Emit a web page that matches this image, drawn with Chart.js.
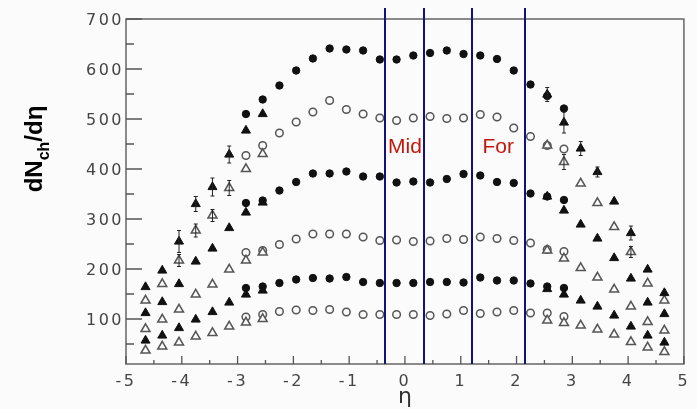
<!DOCTYPE html>
<html>
<head>
<meta charset="utf-8">
<script src="https://cdn.jsdelivr.net/npm/chart.js@4.4.1/dist/chart.umd.min.js"></script>
<style>
  html, body { margin: 0; padding: 0; background: #fbfbfb; }
  #wrap { width: 697px; height: 409px; position: relative; }
</style>
</head>
<body>
<div id="wrap"><canvas id="chart"></canvas></div>
<script>
// eta bins for the central (circle) measurements
const etaMid = [-2.85, -2.55, -2.25, -1.95, -1.65, -1.35, -1.05, -0.75, -0.45, -0.15,
                 0.15, 0.45, 0.75, 1.05, 1.35, 1.65, 1.95, 2.25, 2.55, 2.85];
// eta bins for the forward/backward (triangle) measurements
const etaWing = [-4.65, -4.35, -4.05, -3.75, -3.45, -3.15, -2.85, -2.55,
                  2.55, 2.85, 3.15, 3.45, 3.75, 4.05, 4.35, 4.65];

// filled circles
const circA = [510, 539, 567, 597, 621, 641, 639, 637, 619, 619, 627, 632, 637, 630, 627, 620, 597, 569, 546, 521];
const circC = [332, 337, 357, 374, 391, 391, 395, 385, 385, 373, 375, 373, 380, 390, 387, 374, 372, 351, 345, 338];
const circE = [162, 165, 172, 179, 182, 181, 184, 174, 172, 172, 172, 174, 174, 173, 183, 177, 177, 171, 165, 162];
// open circles
const circB = [427, 447, 472, 494, 514, 537, 519, 510, 502, 497, 502, 505, 501, 502, 509, 504, 482, 465, 447, 440];
const circD = [233, 237, 249, 260, 270, 270, 270, 264, 257, 258, 255, 256, 261, 259, 264, 261, 257, 252, 239, 235];
const circF = [104, 109, 115, 118, 117, 119, 114, 109, 109, 109, 109, 107, 110, 117, 111, 114, 117, 112, 112, 105];

// filled triangles
const triG1 = [164, 197, 255, 330, 364, 429, 477, 510, 549, 493, 441, 394, 335, 272, 199, 152];
const triG2 = [112, 134, 170, 215, 241, 282, 313, 333, 345, 317, 289, 261, 222, 181, 133, 110];
const triG3 = [57, 67, 82, 99, 114, 133, 149, 157, 160, 149, 137, 125, 107, 85, 67, 53];
// open triangles
const triH1 = [137, 170, 217, 277, 307, 362, 400, 430, 447, 414, 371, 332, 284, 234, 171, 137];
const triH2 = [80, 99, 119, 149, 169, 199, 217, 233, 237, 221, 202, 183, 159, 125, 94, 77];
const triH3 = [37, 45, 53, 65, 72, 85, 93, 100, 97, 92, 87, 79, 69, 54, 43, 34];

// error bars (half heights) on the top triangle sets
const errG1 = [0, 0, 22, 15, 18, 17, 0, 0, 14, 21, 14, 10, 0, 14, 0, 0];
const errH1 = [0, 0, 12, 13, 12, 15, 0, 0, 0, 15, 0, 0, 0, 11, 0, 0];

// acceptance boundaries and region labels
const regionLines = [-0.35, 0.35, 1.2, 2.15];
const regionLabels = ['Mid', 'For'];
const regionLabelEta = [0, 1.67];
const regionLabelY = 432;

const xTicks = [-5, -4, -3, -2, -1, 0, 1, 2, 3, 4, 5];
const yTicks = [100, 200, 300, 400, 500, 600, 700];

const pts = (xs, ys) => xs.map((x, i) => ({ x: x, y: ys[i] }));

const filledTri = (data) => ({
    data: pts(etaWing, data), pointStyle: 'triangle', pointRadius: 5.2,
    backgroundColor: '#111', borderColor: '#111', borderWidth: 1
});
const openTri = (data) => ({
    data: pts(etaWing, data), pointStyle: 'triangle', pointRadius: 5.2,
    backgroundColor: '#fbfbfb', borderColor: '#555', borderWidth: 1.5
});
const filledCirc = (data) => ({
    data: pts(etaMid, data), pointStyle: 'circle', pointRadius: 3.7,
    backgroundColor: '#111', borderColor: '#111', borderWidth: 1
});
const openCirc = (data) => ({
    data: pts(etaMid, data), pointStyle: 'circle', pointRadius: 3.8,
    backgroundColor: '#fbfbfb', borderColor: '#555', borderWidth: 1.5
});

const errorSets = [
    { vals: triG1, errs: errG1 },
    { vals: triH1, errs: errH1 }
];

const decor = {
    id: 'decor',
    beforeDraw(chart) {
        const ctx = chart.ctx;
        ctx.save();
        ctx.fillStyle = '#fbfbfb';
        ctx.fillRect(0, 0, chart.width, chart.height);
        ctx.restore();
        ctx.letterSpacing = '2.5px';
    },
    beforeDatasetsDraw(chart) {
        const ctx = chart.ctx;
        ctx.letterSpacing = '0px';
        const { left, right, top, bottom } = chart.chartArea;
        const xs = chart.scales.x, ys = chart.scales.y;
        ctx.save();
        ctx.strokeStyle = '#666';
        ctx.lineWidth = 1.5;
        ctx.strokeRect(left, top, right - left, bottom - top);
        ctx.strokeStyle = '#555';
        ctx.lineWidth = 1.3;
        ctx.beginPath();
        yTicks.forEach(v => {
            const y = ys.getPixelForValue(v);
            ctx.moveTo(left, y); ctx.lineTo(left + 16, y);
            const ym = ys.getPixelForValue(v - 50);
            ctx.moveTo(left, ym); ctx.lineTo(left + 8, ym);
        });
        xTicks.forEach(v => {
            const x = xs.getPixelForValue(v);
            ctx.moveTo(x, bottom); ctx.lineTo(x, bottom - 8);
            if (v < 5) {
                const xm = xs.getPixelForValue(v + 0.5);
                ctx.moveTo(xm, bottom); ctx.lineTo(xm, bottom - 4);
            }
        });
        ctx.stroke();
        ctx.restore();
    },
    afterDatasetsDraw(chart) {
        const ctx = chart.ctx;
        const { top, bottom } = chart.chartArea;
        const xs = chart.scales.x, ys = chart.scales.y;
        ctx.save();
        // error bars
        ctx.strokeStyle = '#222';
        ctx.lineWidth = 1;
        ctx.beginPath();
        errorSets.forEach(set => {
            set.vals.forEach((v, i) => {
                const e = set.errs[i];
                if (!e) return;
                const x = xs.getPixelForValue(etaWing[i]);
                const y1 = ys.getPixelForValue(v - e), y2 = ys.getPixelForValue(v + e);
                ctx.moveTo(x, y1); ctx.lineTo(x, y2);
                ctx.moveTo(x - 2, y1); ctx.lineTo(x + 2, y1);
                ctx.moveTo(x - 2, y2); ctx.lineTo(x + 2, y2);
            });
        });
        ctx.stroke();

        // region boundaries
        ctx.strokeStyle = '#12127c';
        ctx.lineWidth = 2;
        ctx.beginPath();
        regionLines.forEach(v => {
            const x = Math.round(xs.getPixelForValue(v));
            ctx.moveTo(x, top - 11); ctx.lineTo(x, bottom);
        });
        ctx.stroke();

        ctx.fillStyle = '#c4170c';
        ctx.font = '21px "Liberation Sans", Arial, sans-serif';
        ctx.textAlign = 'center';
        ctx.textBaseline = 'alphabetic';
        regionLabels.forEach((t, i) => {
            ctx.fillText(t, xs.getPixelForValue(regionLabelEta[i]), ys.getPixelForValue(regionLabelY));
        });

        // x title
        ctx.fillStyle = '#333';
        ctx.font = '22px "DejaVu Sans", sans-serif';
        ctx.fillText('η', xs.getPixelForValue(0), 403);

        // y title: dN_ch/dη
        ctx.translate(42, 149);
        ctx.rotate(-Math.PI / 2);
        ctx.fillStyle = '#000';
        ctx.textAlign = 'left';
        const big = 'bold 24px "Liberation Sans", Arial, sans-serif';
        const small = 'bold 16px "Liberation Sans", Arial, sans-serif';
        ctx.font = big; const w1 = ctx.measureText('dN').width; const w3 = ctx.measureText('/dη').width;
        ctx.font = small; const w2 = ctx.measureText('ch').width;
        let px = -(w1 + w2 + w3) / 2;
        ctx.font = big; ctx.fillText('dN', px, 0); px += w1;
        ctx.font = small; ctx.fillText('ch', px, 7); px += w2;
        ctx.font = big; ctx.fillText('/dη', px, 0);
        ctx.restore();
    }
};

const tickFont = { family: '"DejaVu Sans", sans-serif', size: 16 };

new Chart(document.getElementById('chart'), {
    type: 'scatter',
    data: {
        datasets: [
            filledTri(triG1), filledTri(triG2), filledTri(triG3),
            openTri(triH1), openTri(triH2), openTri(triH3),
            filledCirc(circA), filledCirc(circC), filledCirc(circE),
            openCirc(circB), openCirc(circD), openCirc(circF)
        ]
    },
    options: {
        responsive: true,
        maintainAspectRatio: false,
        animation: false,
        layout: { padding: { top: 19, right: 11, left: 0, bottom: 0 } },
        plugins: { legend: { display: false }, tooltip: { enabled: false } },
        scales: {
            x: {
                type: 'linear', min: -5, max: 5,
                grid: { display: false, drawTicks: false },
                border: { display: false },
                afterBuildTicks: s => { s.ticks = xTicks.map(v => ({ value: v })); },
                afterFit: s => { s.height = 45; },
                ticks: { font: tickFont, color: '#444', padding: 8, maxRotation: 0,
                         callback: v => String(v) }
            },
            y: {
                type: 'linear', min: 10, max: 700,
                grid: { display: false, drawTicks: false },
                border: { display: false },
                afterBuildTicks: s => { s.ticks = yTicks.map(v => ({ value: v })); },
                afterFit: s => { s.width = 126; },
                ticks: { font: tickFont, color: '#444', padding: 2, labelOffset: 2,
                         callback: v => String(v) }
            }
        }
    },
    plugins: [decor]
});
</script>
</body>
</html>
